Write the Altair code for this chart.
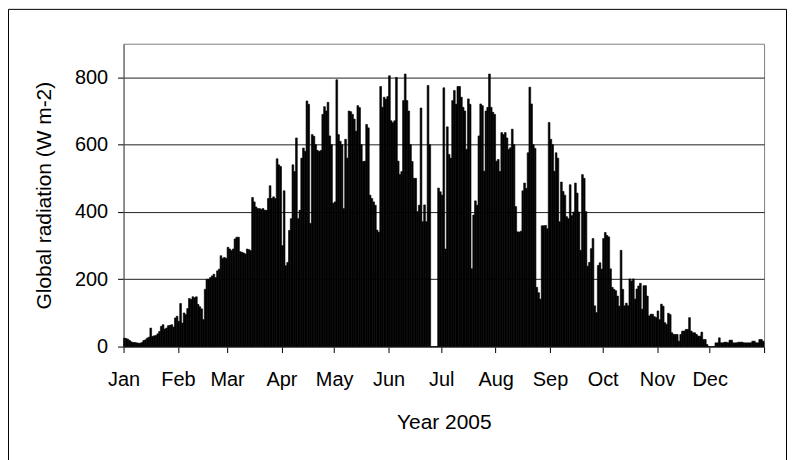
import altair as alt
import pandas as pd

# Daily peak global radiation (W m-2), 2005
jan = [25, 24, 22, 18, 14, 12, 12, 11, 10, 10, 12, 18, 20, 25, 28, 55, 30, 32, 33, 38,
       45, 60, 65, 52, 55, 62, 63, 65, 58, 85, 90]
feb = [75, 128, 70, 100, 95, 113, 143, 140, 148, 145, 148, 125, 118, 112, 80, 170, 200,
       200, 205, 210, 215, 205, 225, 230, 270, 262, 265, 262]
mar = [295, 290, 285, 290, 320, 325, 325, 282, 280, 278, 275, 290, 288, 285, 443, 430,
       415, 410, 410, 408, 410, 405, 405, 440, 478, 440, 445, 440, 558, 540, 535]
apr = [300, 463, 240, 250, 345, 380, 540, 520, 620, 380, 405, 560, 590, 580, 730, 720,
       366, 630, 625, 600, 583, 580, 583, 690, 713, 700, 726, 626, 600, 426]
may = [430, 793, 630, 610, 600, 410, 616, 560, 700, 698, 690, 676, 640, 716, 710, 600,
       550, 551, 660, 650, 450, 440, 430, 420, 346, 340, 773, 711, 741, 735, 743]
jun = [805, 671, 665, 671, 800, 551, 511, 520, 731, 810, 731, 700, 600, 550, 500, 500,
       401, 420, 709, 371, 421, 371, 776, 600, 0, 0, 0, 0, 471, 460]
jul = [450, 769, 290, 653, 571, 560, 731, 761, 720, 773, 773, 741, 711, 700, 586, 736,
       720, 231, 391, 433, 420, 626, 721, 716, 521, 700, 711, 810, 711, 696, 690]
aug = [551, 556, 520, 636, 630, 636, 620, 586, 591, 646, 600, 416, 341, 340, 343, 463,
       486, 470, 576, 771, 721, 600, 589, 176, 160, 141, 359, 359, 360, 350, 666]
sep = [616, 600, 521, 576, 560, 371, 489, 461, 450, 386, 380, 481, 389, 400, 486, 456,
       400, 286, 511, 500, 401, 239, 250, 291, 321, 121, 101, 241, 249, 230]
oct_ = [321, 339, 330, 326, 231, 176, 170, 166, 150, 120, 286, 170, 121, 129, 121, 201,
        195, 201, 141, 171, 180, 188, 111, 181, 181, 150, 91, 96, 96, 89, 86]
nov = [106, 80, 126, 120, 71, 66, 99, 95, 41, 36, 36, 36, 16, 36, 46, 46, 51, 51, 86,
       46, 41, 41, 36, 31, 31, 43, 21, 21, 6, 0]
dec = [0, 0, 0, 11, 11, 26, 11, 11, 13, 13, 11, 19, 19, 11, 11, 11, 13, 13, 13, 11, 11,
       11, 11, 11, 16, 16, 11, 11, 21, 21, 16]

month_names = ["Jan", "Feb", "Mar", "Apr", "May", "Jun",
               "Jul", "Aug", "Sep", "Oct", "Nov", "Dec"]
month_starts = [0, 31, 59, 90, 120, 151, 181, 212, 243, 273, 304, 334, 365]
y_ticks = [0, 200, 400, 600, 800]

values = jan + feb + mar + apr + may + jun + jul + aug + sep + oct_ + nov + dec
df = pd.DataFrame({"day": list(range(len(values))), "rad": values})
df["day_end"] = df["day"] + 1

label_expr = " : ".join(
    f"datum.value == {d} ? '{m}'" for d, m in zip(month_starts, month_names)
) + " : ''"

FONT = "Liberation Sans"

frame = alt.Chart(alt.Data(values=[{"a": 1}])).mark_rect(
    fill="white", fillOpacity=0, stroke="black", strokeWidth=1
).encode(
    x=alt.value(-115.5), x2=alt.value(665.5), y=alt.value(-34.5), y2=alt.value(425)
)

bars = alt.Chart(df).mark_bar(
    color="black", stroke="black", strokeWidth=0.6
).encode(
    x=alt.X("day:Q", scale=alt.Scale(domain=[0, 365], nice=False, zero=False),
            axis=alt.Axis(values=month_starts, labelExpr=label_expr, title="Year 2005",
                          grid=False, tickSize=6, tickColor="black",
                          domainColor="#606060", labelPadding=17, labelFlush=False,
                          labelOverlap=False, titlePadding=22)),
    x2="day_end:Q",
    y=alt.Y("rad:Q", scale=alt.Scale(domain=[0, 900], nice=False),
            axis=alt.Axis(values=y_ticks, title="Global radiation (W m-2)",
                          grid=True, gridColor="#222222", tickSize=6,
                          tickColor="black", domainColor="#606060",
                          labelPadding=10, titlePadding=20)),
    y2=alt.datum(0),
)

chart = alt.layer(frame, bars).properties(
    width=643, height=304,
    autosize=alt.AutoSizeParams(type="none"),
    padding={"left": 116, "top": 35, "right": 24, "bottom": 113},
    background="white",
).configure_view(
    stroke="#808080", strokeWidth=1
).configure_axis(
    labelFont=FONT, labelFontSize=20, labelColor="black",
    titleFont=FONT, titleFontSize=21, titleFontWeight="normal", titleColor="black",
)

chart.save("out.html", embed_options={"renderer": "svg", "actions": False})
